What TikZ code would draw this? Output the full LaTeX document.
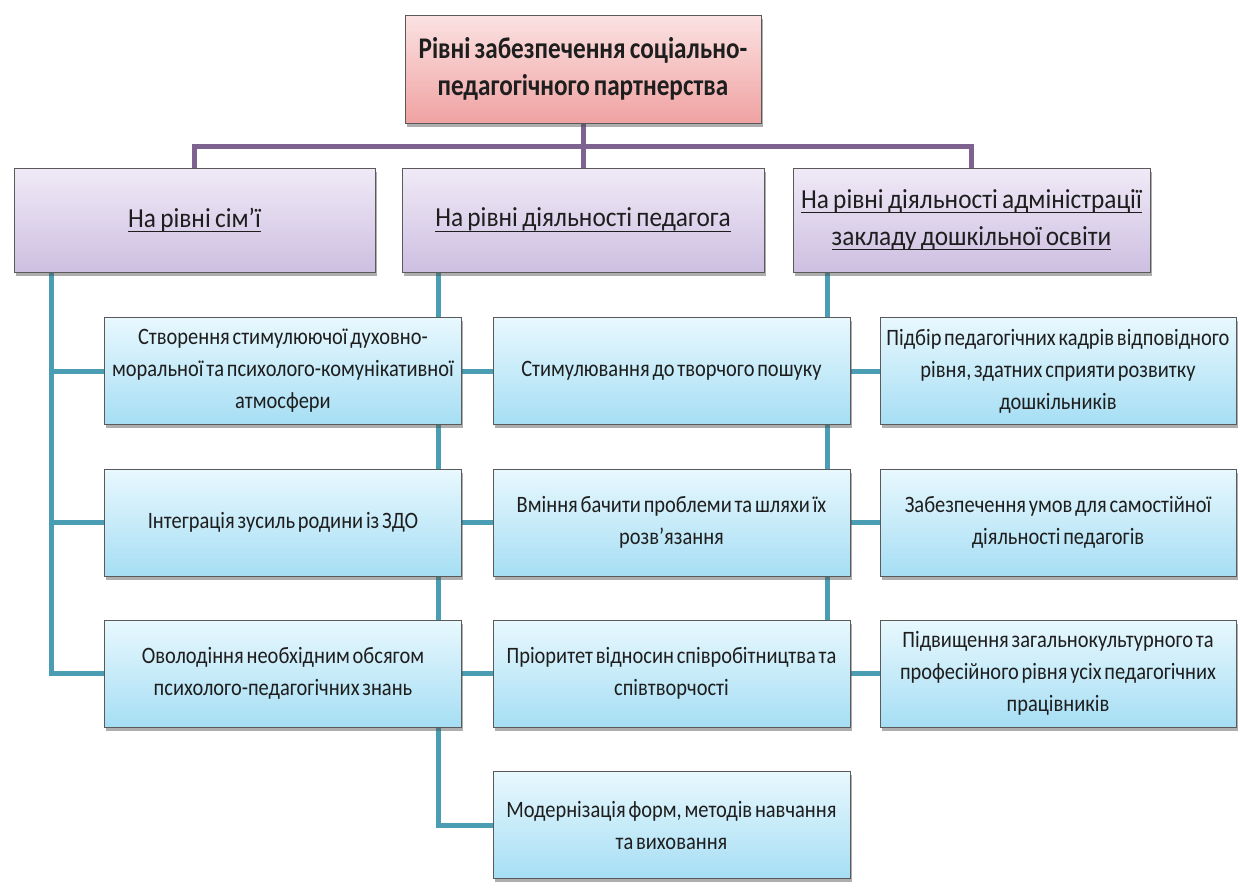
\documentclass[tikz,border=0pt]{standalone}
\usepackage{fontspec}
\newsavebox\ulbox
\newcommand\ulx[1]{\sbox\ulbox{#1}\rlap{\rule[-5pt]{\wd\ulbox}{1.4pt}}\usebox\ulbox}
\setmainfont{Carlito}
\newfontfamily\itemfont{Carlito}[FakeStretch=0.87, WordSpace=0.6]
\newfontfamily\levelfont{Carlito}[FakeStretch=0.92, WordSpace=0.75]
\newfontfamily\topfont{Carlito}[FakeStretch=0.84, WordSpace=0.7]
\usetikzlibrary{shadows,backgrounds}
\definecolor{purpleline}{HTML}{7E6390}
\definecolor{tealline}{HTML}{4A9DB3}
\definecolor{pinktop}{HTML}{FBE2E2}
\definecolor{pinkbot}{HTML}{F0A2A2}
\definecolor{lavtop}{HTML}{F0EAF7}
\definecolor{lavbot}{HTML}{CDBFE1}
\definecolor{bluetop}{HTML}{E8F8FE}
\definecolor{bluebot}{HTML}{A6DEF4}
\definecolor{boxedge}{HTML}{5A5A5A}
\definecolor{txt}{HTML}{1E1E1E}
\tikzset{
  basebox/.style={draw=boxedge, line width=0.8pt, align=center, inner sep=1pt, text=txt,
    drop shadow={shadow xshift=1.5pt, shadow yshift=-3.5pt, opacity=0.45, fill=black!70}},
  topbox/.style={basebox, top color=pinktop, bottom color=pinkbot,
    minimum width=356pt, minimum height=108pt, font=\topfont\fontsize{30}{37}\selectfont\bfseries},
  levelbox/.style={basebox, top color=lavtop, bottom color=lavbot,
    minimum height=104pt, font=\levelfont\fontsize{27.5}{37}\selectfont},
  itembox/.style={basebox, top color=bluetop, bottom color=bluebot,
    minimum width=357pt, minimum height=107pt,
    font=\itemfont\fontsize{23.5}{32}\selectfont},
  pline/.style={draw=purpleline, line width=5pt},
  tline/.style={draw=tealline, line width=5pt},
}
\begin{document}
\begin{tikzpicture}[x=1pt, y=-1pt]
\useasboundingbox (0,0) rectangle (1240,889);
% top
\node[topbox] (T) at (583,69) {Рівні забезпечення соціально-\\педагогічного партнерства};
% level boxes
\node[levelbox, minimum width=361pt] (L1) at (194.5,220) {\ulx{На рівні сім’ї}};
\node[levelbox, minimum width=362pt] (L2) at (583,220) {\ulx{На рівні діяльності педагога}};
\node[levelbox, minimum width=357pt] (L3) at (971.5,220) {\ulx{На рівні діяльності адміністрації}\\\ulx{закладу дошкільної освіти}};
% column 1
\node[itembox] (A) at (283,371) {Створення стимулюючої духовно-\\моральної та психолого-комунікативної\\атмосфери};
\node[itembox] (B) at (283,522.5) {Інтеграція зусиль родини із ЗДО};
\node[itembox] (C) at (283,673.5) {Оволодіння необхідним обсягом\\психолого-педагогічних знань};
% column 2
\node[itembox] (D) at (671.5,371) {Стимулювання до творчого пошуку};
\node[itembox] (E) at (671.5,522.5) {Вміння бачити проблеми та шляхи їх\\розв’язання};
\node[itembox] (F) at (671.5,673.5) {Пріоритет відносин співробітництва та\\співтворчості};
\node[itembox] (G) at (671.5,825) {Модернізація форм, методів навчання\\та виховання};
% column 3
\node[itembox, minimum width=356pt] (H) at (1058,371) {Підбір педагогічних кадрів відповідного\\рівня, здатних сприяти розвитку\\дошкільників};
\node[itembox, minimum width=356pt] (I) at (1058,522.5) {Забезпечення умов для самостійної\\діяльності педагогів};
\node[itembox, minimum width=356pt] (J) at (1058,673.5) {Підвищення загальнокультурного та\\професійного рівня усіх педагогічних\\працівників};
\begin{scope}[on background layer]
  \coordinate (bus) at (0,146);
  \draw[pline] (T.south) -- (L2.north);
  \draw[pline] (L1.north) -- (L1.north |- bus) -- (L3.north |- bus) -- (L3.north);
  % left spine
  \coordinate (ls) at ([xshift=38pt]L1.south west);
  \draw[tline] (ls) |- (C.west);
  \draw[tline] (ls |- A.west) -- (A.west);
  \draw[tline] (ls |- B.west) -- (B.west);
  % middle spine
  \coordinate (ms) at ([xshift=37pt]L2.south west);
  \draw[tline] (ms) |- (G.west);
  \draw[tline] (ms |- D.west) -- (D.west);
  \draw[tline] (ms |- E.west) -- (E.west);
  \draw[tline] (ms |- F.west) -- (F.west);
  % right spine
  \coordinate (rs) at ([xshift=35pt]L3.south west);
  \draw[tline] (rs) |- (J.west);
  \draw[tline] (rs |- H.west) -- (H.west);
  \draw[tline] (rs |- I.west) -- (I.west);
\end{scope}
\end{tikzpicture}
\end{document}
